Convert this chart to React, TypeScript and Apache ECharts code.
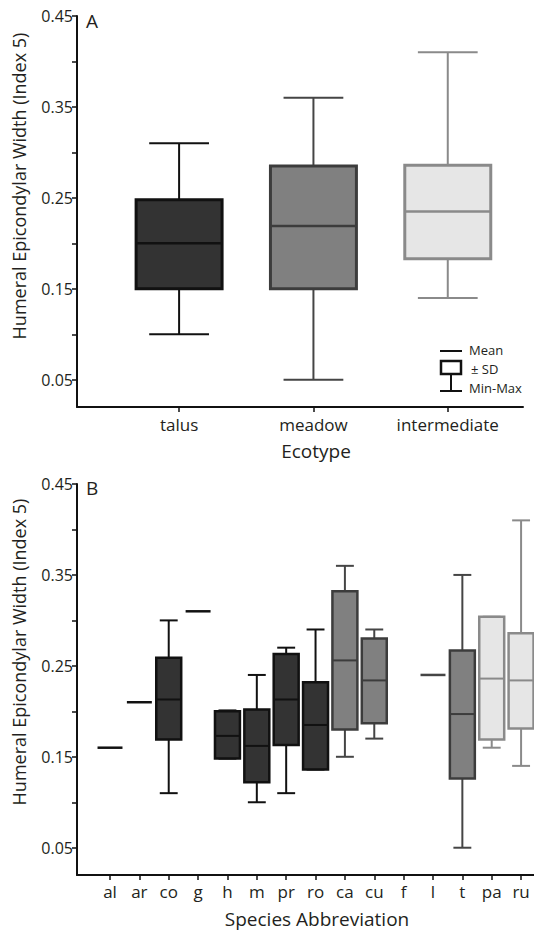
import React, { useEffect, useRef } from 'react';
import * as echarts from 'echarts';

// Panel A: ecotypes  (min, mean-SD, mean, mean+SD, max)
const ecotypes = ['talus', 'meadow', 'intermediate'];
const ecoMin = [0.10, 0.05, 0.14];
const ecoLow = [0.15, 0.15, 0.183];
const ecoMean = [0.20, 0.219, 0.235];
const ecoHigh = [0.248, 0.285, 0.286];
const ecoMax = [0.31, 0.36, 0.41];
const ecoShade = [0, 1, 2];

// Panel B: species
const species = ['al', 'ar', 'co', 'g', 'h', 'm', 'pr', 'ro', 'ca', 'cu', 'f', 'l', 't', 'pa', 'ru'];
const spMin = [0.16, 0.21, 0.11, 0.31, 0.148, 0.10, 0.11, 0.136, 0.15, 0.17, null, 0.24, 0.05, 0.16, 0.14];
const spLow = [0.16, 0.21, 0.169, 0.31, 0.148, 0.122, 0.163, 0.136, 0.18, 0.187, null, 0.24, 0.126, 0.169, 0.181];
const spMean = [0.16, 0.21, 0.213, 0.31, 0.173, 0.162, 0.213, 0.185, 0.256, 0.234, null, 0.24, 0.197, 0.236, 0.234];
const spHigh = [0.16, 0.21, 0.259, 0.31, 0.200, 0.202, 0.263, 0.232, 0.332, 0.28, null, 0.24, 0.267, 0.304, 0.286];
const spMax = [0.16, 0.21, 0.30, 0.31, 0.201, 0.24, 0.27, 0.29, 0.36, 0.29, null, 0.24, 0.35, 0.304, 0.41];
const spShade = [0, 0, 0, 0, 0, 0, 0, 0, 1, 1, null, 1, 1, 2, 2];

const yTicks = [0.05, 0.10, 0.15, 0.20, 0.25, 0.30, 0.35, 0.40, 0.45];
const yLabels = [0.05, 0.15, 0.25, 0.35, 0.45];

const SHADES = [
  { fill: '#333333', stroke: '#111111', whisker: '#111111' },
  { fill: '#808080', stroke: '#3c3c3c', whisker: '#454545' },
  { fill: '#e6e6e6', stroke: '#8a8a8a', whisker: '#8a8a8a' },
];

const FONT = '"Open Sans", "Noto Sans", sans-serif';
const INK = '#231f20';

function buildData(mins: any[], lows: any[], means: any[], highs: any[], maxs: any[], shades: any[], offset: number) {
  const out: any[] = [];
  means.forEach((m, i) => {
    if (m === null || m === undefined) return;
    out.push([i + offset, mins[i], lows[i], m, highs[i], maxs[i], shades[i]]);
  });
  return out;
}

function makeRender(boxW: number, capW: number, boxLW: number, whiskLW: number) {
  return (params: any, api: any) => {
    const x = api.value(0);
    const mn = api.value(1), lo = api.value(2), me = api.value(3), hi = api.value(4), mx = api.value(5);
    const sh = SHADES[api.value(6)];
    const bw = api.size([boxW, 0])[0];
    const cw = api.size([capW, 0])[0];
    const pMin = api.coord([x, mn]);
    const pLo = api.coord([x, lo]);
    const pMe = api.coord([x, me]);
    const pHi = api.coord([x, hi]);
    const pMax = api.coord([x, mx]);
    const cx = pMe[0];
    if (mn === mx) {
      return {
        type: 'line',
        shape: { x1: cx - bw / 2, y1: pMe[1], x2: cx + bw / 2, y2: pMe[1] },
        style: { stroke: sh.whisker, lineWidth: whiskLW + 0.5 },
      };
    }
    const children: any[] = [];
    const wStyle = { stroke: sh.whisker, lineWidth: whiskLW };
    children.push({ type: 'line', shape: { x1: cx, y1: pHi[1], x2: cx, y2: pMax[1] }, style: wStyle });
    children.push({ type: 'line', shape: { x1: cx - cw / 2, y1: pMax[1], x2: cx + cw / 2, y2: pMax[1] }, style: wStyle });
    children.push({ type: 'line', shape: { x1: cx, y1: pLo[1], x2: cx, y2: pMin[1] }, style: wStyle });
    children.push({ type: 'line', shape: { x1: cx - cw / 2, y1: pMin[1], x2: cx + cw / 2, y2: pMin[1] }, style: wStyle });
    children.push({
      type: 'rect',
      shape: { x: cx - bw / 2, y: pHi[1], width: bw, height: pLo[1] - pHi[1] },
      style: { fill: sh.fill, stroke: sh.stroke, lineWidth: boxLW },
    });
    children.push({
      type: 'line',
      shape: { x1: cx - bw / 2, y1: pMe[1], x2: cx + bw / 2, y2: pMe[1] },
      style: { stroke: sh.stroke, lineWidth: boxLW - 0.5 },
    });
    return { type: 'group', children };
  };
}

const yAxisCommon = {
  type: 'value',
  min: 0.02,
  max: 0.45,
  axisLine: { show: true, onZero: false, lineStyle: { color: '#111', width: 2 } },
  axisTick: { show: true, customValues: yTicks, length: 5, lineStyle: { color: '#111', width: 1.5 } },
  axisLabel: {
    customValues: yLabels,
    formatter: (v: number) => v.toFixed(2),
    fontSize: 16,
    color: INK,
    fontFamily: FONT,
    margin: 4,
  },
  splitLine: { show: false },
};

export default function App() {
  const ref = useRef<HTMLDivElement>(null);
  useEffect(() => {
    if (!ref.current) return;
    const chart = echarts.init(ref.current, null, { renderer: 'svg' });
    const ecoIdx = ecotypes.map((_, i) => i + 1);
    const spIdx = species.map((_, i) => i);
    const option: any = {
      animation: false,
      backgroundColor: '#ffffff',
      textStyle: { fontFamily: FONT },
      grid: [
        { left: 77, right: 11, top: 16, height: 391 },
        { left: 77, right: 0, top: 484, height: 391 },
      ],
      xAxis: [
        {
          type: 'value', gridIndex: 0, min: 0.24, max: 3.56,
          axisLine: { show: true, onZero: false, lineStyle: { color: '#111', width: 2 } },
          axisTick: { show: true, customValues: ecoIdx, length: 5, lineStyle: { color: '#111', width: 1.5 } },
          axisLabel: {
            customValues: ecoIdx,
            formatter: (v: number) => ecotypes[Math.round(v) - 1] ?? '',
            fontSize: 17, color: INK, fontFamily: FONT, margin: 9,
          },
          splitLine: { show: false },
        },
        {
          type: 'value', gridIndex: 1, min: -1.124, max: 14.44,
          axisLine: { show: true, onZero: false, lineStyle: { color: '#111', width: 2 } },
          axisTick: { show: true, customValues: spIdx, length: 5, lineStyle: { color: '#111', width: 1.5 } },
          axisLabel: {
            customValues: spIdx,
            formatter: (v: number) => species[Math.round(v)] ?? '',
            fontSize: 17, color: INK, fontFamily: FONT, margin: 8,
          },
          splitLine: { show: false },
        },
      ],
      yAxis: [
        { ...yAxisCommon, gridIndex: 0 },
        { ...yAxisCommon, gridIndex: 1 },
      ],
      series: [
        {
          type: 'custom',
          xAxisIndex: 0, yAxisIndex: 0,
          renderItem: makeRender(0.64, 0.445, 3, 2),
          encode: { x: 0, y: [1, 2, 3, 4, 5] },
          data: buildData(ecoMin, ecoLow, ecoMean, ecoHigh, ecoMax, ecoShade, 1),
        },
        {
          type: 'custom',
          xAxisIndex: 1, yAxisIndex: 1,
          renderItem: makeRender(0.85, 0.61, 2.5, 2),
          encode: { x: 0, y: [1, 2, 3, 4, 5] },
          data: buildData(spMin, spLow, spMean, spHigh, spMax, spShade, 0),
        },
      ],
      graphic: [
        { type: 'text', x: 86, y: 21, style: { text: 'A', fontSize: 19, fill: INK, fontFamily: FONT, textVerticalAlign: 'middle' } },
        { type: 'text', x: 86, y: 488, style: { text: 'B', fontSize: 19, fill: INK, fontFamily: FONT, textVerticalAlign: 'middle' } },
        {
          type: 'text', x: 19, y: 186, rotation: Math.PI / 2,
          style: { text: 'Humeral Epicondylar Width (Index 5)', fontSize: 18, fill: INK, fontFamily: FONT, textAlign: 'center', textVerticalAlign: 'middle' },
        },
        {
          type: 'text', x: 19, y: 652, rotation: Math.PI / 2,
          style: { text: 'Humeral Epicondylar Width (Index 5)', fontSize: 18, fill: INK, fontFamily: FONT, textAlign: 'center', textVerticalAlign: 'middle' },
        },
        { type: 'text', x: 316, y: 451, style: { text: 'Ecotype', fontSize: 19, fill: INK, fontFamily: FONT, textAlign: 'center', textVerticalAlign: 'middle' } },
        { type: 'text', x: 317, y: 919, style: { text: 'Species Abbreviation', fontSize: 19, fill: INK, fontFamily: FONT, textAlign: 'center', textVerticalAlign: 'middle' } },
        // legend
        { type: 'line', shape: { x1: 440, y1: 351, x2: 462, y2: 351 }, style: { stroke: '#111', lineWidth: 2 } },
        { type: 'rect', shape: { x: 441, y: 361, width: 20, height: 13 }, style: { fill: '#fff', stroke: '#111', lineWidth: 2.5 } },
        { type: 'line', shape: { x1: 451, y1: 375, x2: 451, y2: 391 }, style: { stroke: '#111', lineWidth: 2 } },
        { type: 'line', shape: { x1: 440, y1: 391, x2: 462, y2: 391 }, style: { stroke: '#111', lineWidth: 2 } },
        { type: 'text', x: 469, y: 350, style: { text: 'Mean', fontSize: 13, fill: INK, fontFamily: FONT, textVerticalAlign: 'middle' } },
        { type: 'text', x: 471, y: 369, style: { text: '± SD', fontSize: 13, fill: INK, fontFamily: FONT, textVerticalAlign: 'middle' } },
        { type: 'text', x: 469, y: 388, style: { text: 'Min-Max', fontSize: 13, fill: INK, fontFamily: FONT, textVerticalAlign: 'middle' } },
      ],
    };
    chart.setOption(option);
    return () => chart.dispose();
  }, []);
  return (
    <div
      ref={ref}
      style={{ position: 'absolute', left: 0, top: 0, width: 534, height: 932, background: '#fff' }}
    />
  );
}
